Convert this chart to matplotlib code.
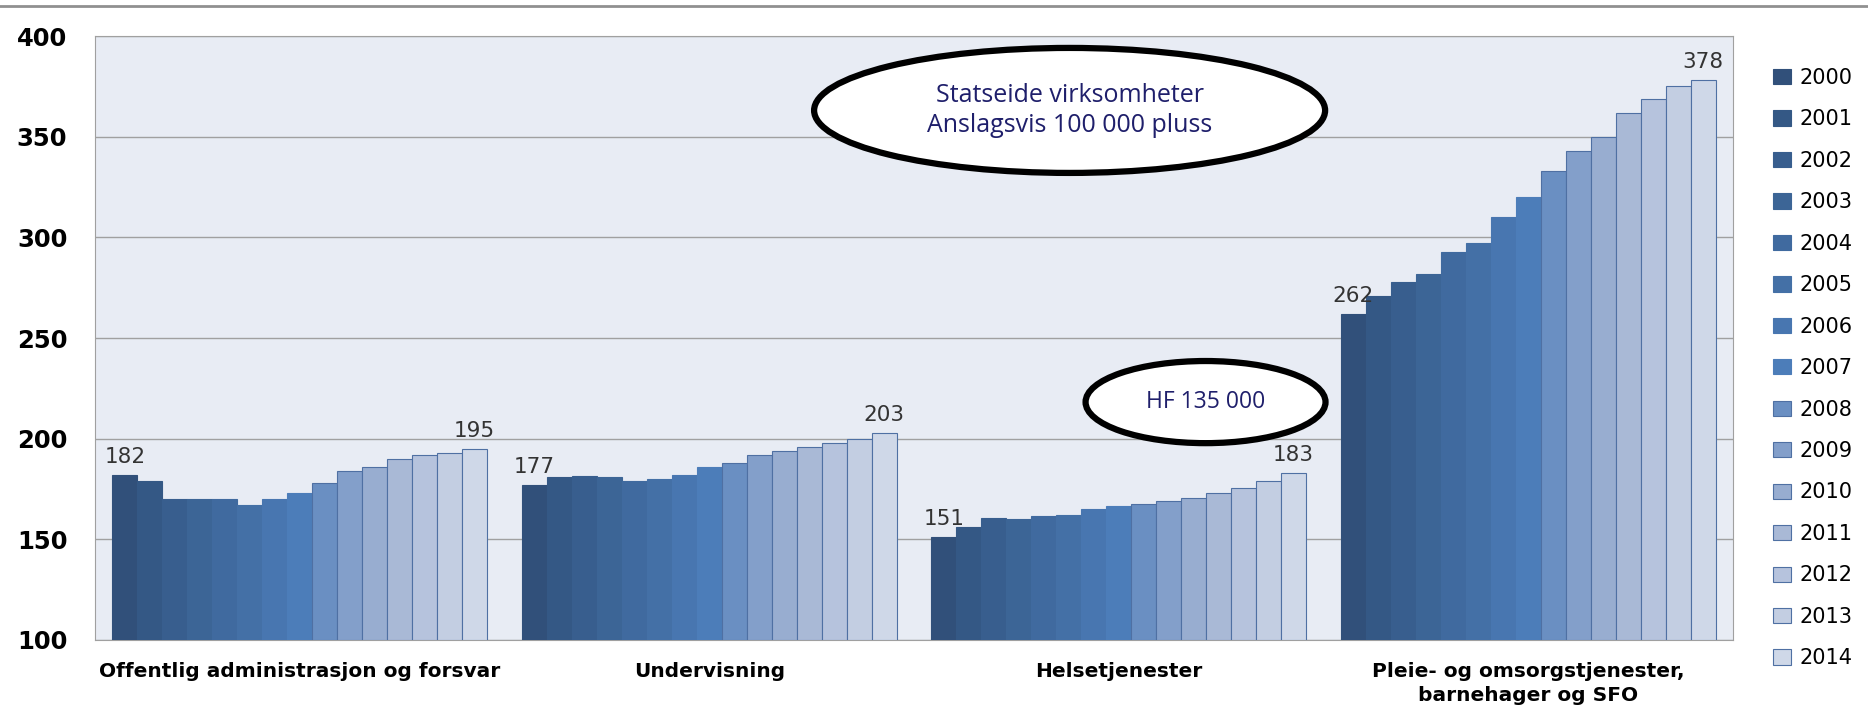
#employment by sector 2000-2014, thousands
import numpy as np
import matplotlib.pyplot as plt
from matplotlib.patches import Ellipse

#data
sectors = ['Offentlig administrasjon og forsvar', 'Undervisning', 'Helsetjenester',
           'Pleie- og omsorgstjenester,\nbarnehager og SFO']
years = [str(y) for y in range(2000, 2015)]

adm = [182, 179, 170, 170, 170, 167, 170, 173, 178, 184, 186, 190, 192, 193, 195]
und = [177, 181, 181.5, 181, 179, 180, 182, 186, 188, 192, 194, 196, 198, 200, 203]
hel = [151, 156, 160.5, 160, 161.5, 162, 165, 166.5, 167.5, 169, 170.5, 173, 175.5, 179, 183]
pleie = [262, 271, 278, 282, 293, 297, 310, 320, 333, 343, 350, 362, 369, 375, 378]

colors = ['#31507A', '#345885', '#385E8E', '#3C6596', '#406A9F', '#4470A6', '#4876B0',
          '#4C7DB9', '#6A8FC2', '#839FCA', '#98ADD0', '#A9B9D6', '#B6C3DD', '#C3CEE2', '#CFD8E8']

values = np.array([adm, und, hel, pleie])

fig = plt.figure(figsize=(18.68, 7.23), dpi=100)
ax = fig.add_axes([0.0509, 0.1148, 0.8768, 0.8352])
ax.set_facecolor('#E8ECF4')

x = np.arange(len(sectors))
w = 0.915 / len(years)
for i, yr in enumerate(years):
    edge = '#4F70A3' if i >= 8 else colors[i]
    ax.bar(x + (i - 7) * w, values[:, i] - 100, w, bottom=100, color=colors[i],
           edgecolor=edge, linewidth=0.8, label=yr, zorder=3)

#value labels on first and last bar
for j in range(len(sectors)):
    for i in [0, len(years) - 1]:
        v = values[j, i]
        ax.text(x[j] + (i - 7) * w, v + 4, '%d' % round(v), ha='center', va='bottom',
                fontsize=15.5, color='#333333', zorder=5)

ax.set_xlim(-0.5, 3.5)
ax.set_ylim(100, 400)
ax.set_yticks(range(100, 401, 50))
ax.yaxis.grid(True, color='#A0A0A0', linewidth=1, zorder=1)
ax.tick_params(axis='y', length=0, pad=20, labelsize=17.5)
ax.tick_params(axis='x', length=0, pad=16)
for lbl in ax.get_yticklabels():
    lbl.set_fontweight('bold')
ax.set_xticks(x)
ax.set_xticklabels(sectors, fontsize=14.5, fontweight='bold', va='top', linespacing=1.35)
for s in ax.spines.values():
    s.set_color('#A0A0A0')

#callouts
e1 = Ellipse((0.595, 0.877), 0.312, 0.207, transform=ax.transAxes, facecolor='white',
             edgecolor='black', linewidth=4.5, zorder=6)
ax.add_patch(e1)
ax.text(0.595, 0.877, 'Statseide virksomheter\nAnslagsvis 100 000 pluss', transform=ax.transAxes,
        ha='center', va='center', fontsize=18, color='#1F1F6B', family='Open Sans',
        linespacing=1.25, zorder=7)
e2 = Ellipse((0.678, 0.394), 0.1465, 0.136, transform=ax.transAxes, facecolor='white',
             edgecolor='black', linewidth=4.5, zorder=6)
ax.add_patch(e2)
ax.text(0.678, 0.394, 'HF 135 000', transform=ax.transAxes, ha='center', va='center',
        fontsize=16.5, color='#1F1F6B', family='Open Sans', zorder=7)

fig.legend(loc='upper left', bbox_to_anchor=(0.939, 0.932), frameon=False, fontsize=15,
           labelspacing=1.03, handlelength=0.85, handleheight=0.75, handletextpad=0.45)

#thin line at top of figure
fig.add_artist(plt.Line2D([0, 1], [0.992, 0.992], color='#909090', linewidth=2))

fig.savefig('out.png', dpi=100)
